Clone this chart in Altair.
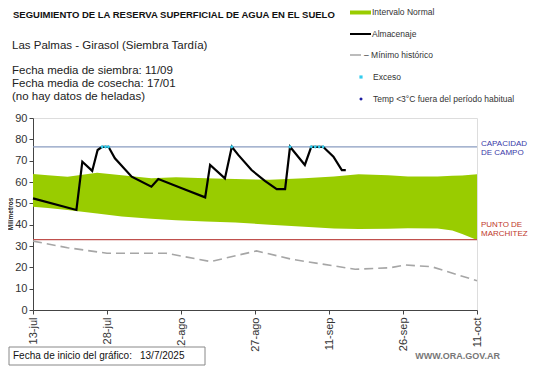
import altair as alt
import pandas as pd

# ---- data (days since 13-jul-2025) ----
band_day = [0, 3, 7, 13, 18, 24, 29, 35, 41, 48, 55, 61, 66, 72, 76, 82, 85, 87, 90]
band_upper = [63.8, 63.2, 62.5, 64.3, 63.2, 61.8, 62.2, 61.8, 61.4, 61.0, 61.8, 62.6, 63.6, 63.2, 62.6, 62.6, 62.9, 63.1, 63.6]
band_lower = [48.4, 47.8, 46.9, 45.2, 43.8, 42.8, 42.1, 41.5, 41.0, 40.0, 39.0, 38.2, 38.0, 38.1, 38.3, 38.2, 37.3, 35.6, 32.8]

alm_day = [0, 8.8, 10, 12, 13.1, 14, 15.3, 16.6, 20, 24, 25.4, 30.8, 34.9, 35.9, 38.9, 40.3, 41.6, 44.3, 47, 49.4, 51.1, 52.1, 55.1, 56.4, 58.8, 60.9, 62.6, 63.4]
alm_val = [52.3, 46.9, 69.5, 65.2, 75.0, 76.5, 76.5, 71.1, 62.5, 57.8, 61.4, 56.5, 52.8, 68.0, 61.7, 76.5, 72.7, 65.6, 60.5, 56.7, 56.7, 76.5, 68.0, 76.5, 76.5, 71.9, 65.6, 65.6]

min_day = [0, 7, 15, 27, 36, 45.3, 52.4, 65.3, 72.4, 75.4, 80.8, 90]
min_val = [32.3, 29.2, 26.6, 26.6, 22.7, 27.7, 23.8, 19.1, 19.8, 21.1, 20.3, 13.7]

exc_day = [14, 14.7, 15.3, 40.3, 52.1, 56.4, 57.2, 58.0, 58.8]

capacidad_campo = 76.5
punto_marchitez = 33.0

tick_days = [0, 15, 30, 45, 60, 75, 90]
tick_labels = ["13-jul", "28-jul", "12-ago", "27-ago", "11-sep", "26-sep", "11-oct"]
y_ticks = [0, 10, 20, 30, 40, 50, 60, 70, 80, 90]

FONT = "Liberation Sans"
OX, OY = 33, 118  # page position of plot origin
W, H = 444, 192

band = pd.DataFrame({"d": band_day, "lo": band_lower, "hi": band_upper})
alm = pd.DataFrame({"d": alm_day, "v": alm_val})
mn = pd.DataFrame({"d": min_day, "v": min_val})
exc = pd.DataFrame({"d": exc_day, "v": [capacidad_campo] * len(exc_day)})
one = pd.DataFrame({"a": [0]})

label_expr = "[" + ",".join("'%s'" % t for t in tick_labels) + "][round(datum.value/15)]"

xs = alt.Scale(domain=[0, 90], nice=False, zero=False)
ys = alt.Scale(domain=[0, 90], nice=False)
xax = alt.Axis(values=tick_days, labelExpr=label_expr, labelAngle=-90, title=None, grid=False,
               labelFontSize=11, labelColor="#333", tickSize=4, domainColor="#444", tickColor="#444",
               labelFont=FONT, labelPadding=3, labelFlush=False, labelOverlap=False)
yax = alt.Axis(values=y_ticks, title=None, grid=False, labelFontSize=11,
               labelColor="#333", tickSize=4, domainColor="#444", tickColor="#444", labelFont=FONT,
               labelFlush=False, labelOverlap=False)

area = alt.Chart(band).mark_area(color="#99cc00", opacity=1).encode(
    x=alt.X("d:Q", scale=xs, axis=xax), y=alt.Y("lo:Q", scale=ys, axis=yax), y2="hi:Q")
cc = alt.Chart(one).mark_rule(color="#8a9cc0", strokeWidth=1.2).encode(
    y=alt.datum(capacidad_campo, scale=ys, axis=yax))
pm = alt.Chart(one).mark_rule(color="#c0504d", strokeWidth=1.2).encode(
    y=alt.datum(punto_marchitez, scale=ys, axis=yax))
minl = alt.Chart(mn).mark_line(color="#a6a6a6", strokeWidth=1.6, strokeDash=[9, 5]).encode(
    x=alt.X("d:Q", scale=xs, axis=xax), y=alt.Y("v:Q", scale=ys, axis=yax))
alml = alt.Chart(alm).mark_line(color="#000000", strokeWidth=2.2).encode(
    x=alt.X("d:Q", scale=xs, axis=xax), y=alt.Y("v:Q", scale=ys, axis=yax))
excp = alt.Chart(exc).mark_point(filled=True, color="#33ccee", size=14, shape="diamond", opacity=1).encode(
    x=alt.X("d:Q", scale=xs, axis=xax), y=alt.Y("v:Q", scale=ys, axis=yax))


def txt(s, px, py, size=12, color="#222", weight="normal", align="left", angle=0, font=FONT):
    return alt.Chart(one).mark_text(text=s, fontSize=size, color=color, fontWeight=weight, align=align,
                                    baseline="middle", angle=angle, font=font).encode(
        x=alt.value(px - OX), y=alt.value(py - OY))


texts = [
    txt("SEGUIMIENTO DE LA RESERVA SUPERFICIAL DE AGUA EN EL SUELO", 13, 15, size=9.5, weight="bold", color="#111"),
    txt("Las Palmas - Girasol (Siembra Tardía)", 12, 46, size=11.5),
    txt("Fecha media de siembra: 11/09", 12, 71, size=11.5),
    txt("Fecha media de cosecha: 17/01", 12, 84, size=11.5),
    txt("(no hay  datos de heladas)", 12, 97, size=11.5),
    txt("Intervalo Normal", 372, 12, size=8.5, color="#333"),
    txt("Almacenaje", 372, 34, size=8.5, color="#333"),
    txt("– Mínimo histórico", 364, 55, size=8.5, color="#333"),
    txt("Exceso", 373, 77, size=8.5, color="#333"),
    txt("Temp <3°C fuera del período habitual", 373, 99, size=8.5, color="#333"),
    txt("CAPACIDAD", 481, 144, size=8, color="#3a3aa8"),
    txt("DE  CAMPO", 481, 153, size=8, color="#3a3aa8"),
    txt("PUNTO  DE", 481, 225, size=8, color="#c0392b"),
    txt("MARCHITEZ", 481, 234, size=8, color="#c0392b"),
    txt("Milímetros", 11, 214, size=6.5, color="#222", weight="bold", align="center", angle=270),
    txt("Fecha de inicio del gráfico:", 13, 356, size=10, color="#111"),
    txt("13/7/2025", 140, 356, size=10, color="#111"),
    txt("WWW.ORA.GOV.AR", 500, 356, size=9, color="#777", weight="bold", align="right"),
]

legend = [
    alt.Chart(one).mark_rect(color="#99cc00").encode(
        x=alt.value(350 - OX), x2=alt.value(371 - OX), y=alt.value(10.5 - OY), y2=alt.value(14.5 - OY)),
    alt.Chart(one).mark_rule(color="#000", strokeWidth=2).encode(
        x=alt.value(350 - OX), x2=alt.value(371 - OX), y=alt.value(34 - OY)),
    alt.Chart(one).mark_rule(color="#a6a6a6", strokeWidth=1.5).encode(
        x=alt.value(350 - OX), x2=alt.value(361 - OX), y=alt.value(55 - OY)),
    alt.Chart(one).mark_point(filled=True, color="#33ccee", size=10, shape="square", opacity=1).encode(
        x=alt.value(361 - OX), y=alt.value(77 - OY)),
    alt.Chart(one).mark_point(filled=True, color="#1a1aa0", size=14, shape="diamond", opacity=1).encode(
        x=alt.value(361 - OX), y=alt.value(99 - OY)),
    alt.Chart(one).mark_rect(fill="white", stroke="#888", strokeWidth=1).encode(
        x=alt.value(9 - OX), x2=alt.value(205 - OX), y=alt.value(347 - OY), y2=alt.value(365 - OY)),
]

chart = alt.layer(area, cc, pm, minl, alml, excp, *legend, *texts).properties(
    width=W, height=H, padding={"left": 25, "top": 110, "right": 56, "bottom": 58},
    autosize=alt.AutoSizeParams(type="none"),
).configure_view(stroke=None).configure(background="white")

chart.save("out.html", embed_options={"renderer": "svg", "actions": False})
